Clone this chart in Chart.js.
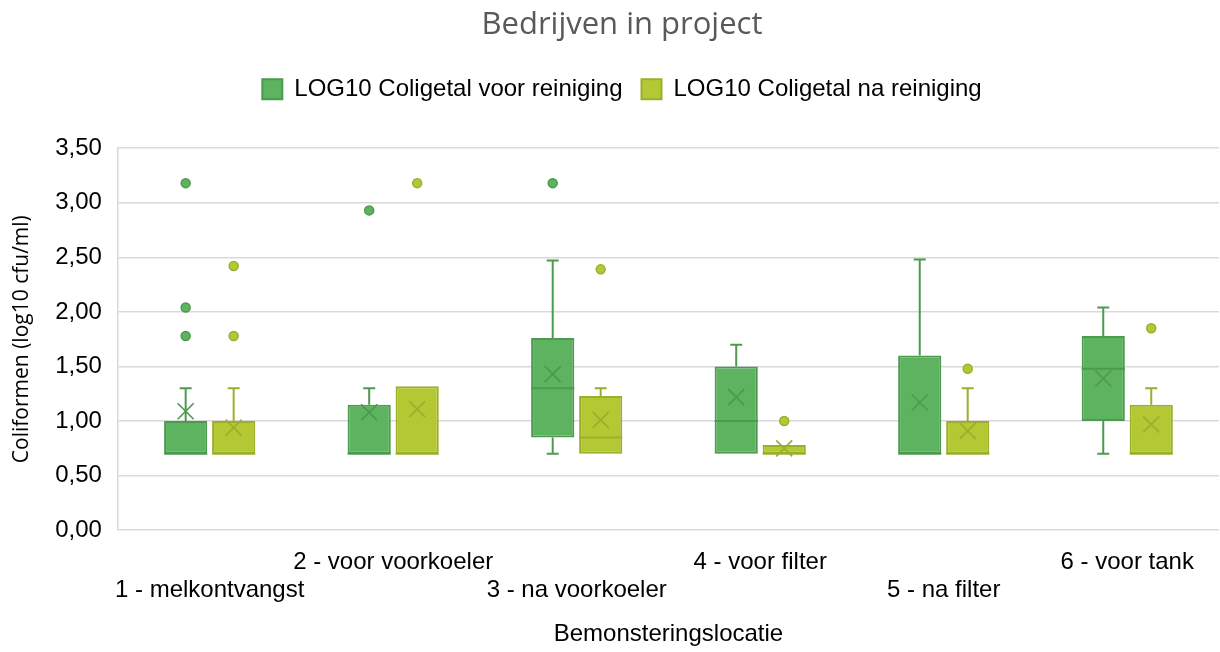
<!DOCTYPE html>
<html>
<head>
<meta charset="utf-8">
<script src="https://cdn.jsdelivr.net/npm/chart.js@4/dist/chart.umd.min.js"></script>
<style>
html,body{margin:0;padding:0;background:#fff;}
#c{display:block;}
</style>
</head>
<body>
<canvas id="c" width="1220" height="652"></canvas>
<script>
const categories = ['1 - melkontvangst','2 - voor voorkoeler','3 - na voorkoeler','4 - voor filter','5 - na filter','6 - voor tank'];
const seriesNames = ['LOG10 Coligetal voor reiniging','LOG10 Coligetal na reiniging'];
const yTicks = [0,0.5,1,1.5,2,2.5,3,3.5];

// LOG10 Coligetal voor reiniging
const voorMin    = [0.70,0.70,0.70,0.70,0.70,0.70];
const voorQ1     = [0.70,0.70,0.85,0.70,0.70,1.00];
const voorMedian = [0.70,0.70,1.30,1.00,0.70,1.48];
const voorQ3     = [1.00,1.15,1.76,1.50,1.60,1.78];
const voorMax    = [1.30,1.30,2.47,1.70,2.48,2.04];
const voorMean   = [1.09,1.08,1.43,1.22,1.17,1.39];
const voorOutliers = [[3.18,2.04,1.78],[2.93],[3.18],[],[],[]];

// LOG10 Coligetal na reiniging
const naMin    = [0.70,0.70,0.70,0.70,0.70,0.70];
const naQ1     = [0.70,0.70,0.70,0.70,0.70,0.70];
const naMedian = [0.70,0.70,0.85,0.70,0.70,0.70];
const naQ3     = [1.00,1.32,1.23,0.78,1.00,1.15];
const naMax    = [1.30,1.32,1.30,0.78,1.30,1.30];
const naMean   = [0.94,1.11,1.01,0.75,0.91,0.97];
const naOutliers = [[2.42,1.78],[3.18],[2.39],[1.00],[1.48],[1.85]];

const fills = ['#5db35f','#b4c834'];
const borders = ['#4c9a4f','#9baf2c'];

const stats = [
  {min:voorMin,q1:voorQ1,med:voorMedian,q3:voorQ3,max:voorMax,mean:voorMean,out:voorOutliers},
  {min:naMin,q1:naQ1,med:naMedian,q3:naQ3,max:naMax,mean:naMean,out:naOutliers}
];

const legendSpace = {
  id:'legendSpace',
  beforeInit(chart){
    const orig = chart.legend.fit;
    chart.legend.fit = function(){
      orig.bind(chart.legend)();
      this.height += 37;
    };
  }
};

const boxPlugin = {
  id:'boxExtras',
  afterDatasetsDraw(chart){
    const ctx = chart.ctx;
    const y = chart.scales.y;
    stats.forEach((s,d)=>{
      const meta = chart.getDatasetMeta(d);
      if (meta.hidden) return;
      meta.data.forEach((bar,j)=>{
        const x = bar.x, w = bar.width;
        ctx.save();
        ctx.strokeStyle = borders[d];
        ctx.lineWidth = 2;
        const cap = 6;
        if (s.max[j] > s.q3[j]) {
          ctx.beginPath();
          ctx.moveTo(x, y.getPixelForValue(s.q3[j]));
          ctx.lineTo(x, y.getPixelForValue(s.max[j]));
          ctx.moveTo(x-cap, y.getPixelForValue(s.max[j]));
          ctx.lineTo(x+cap, y.getPixelForValue(s.max[j]));
          ctx.stroke();
        }
        if (s.min[j] < s.q1[j]) {
          ctx.beginPath();
          ctx.moveTo(x, y.getPixelForValue(s.q1[j]));
          ctx.lineTo(x, y.getPixelForValue(s.min[j]));
          ctx.moveTo(x-cap, y.getPixelForValue(s.min[j]));
          ctx.lineTo(x+cap, y.getPixelForValue(s.min[j]));
          ctx.stroke();
        }
        const my = y.getPixelForValue(s.med[j]);
        ctx.beginPath();
        ctx.moveTo(x-w/2, my);
        ctx.lineTo(x+w/2, my);
        ctx.stroke();
        const mm = y.getPixelForValue(s.mean[j]);
        const h = 8;
        ctx.lineWidth = 1.7;
        ctx.beginPath();
        ctx.moveTo(x-h, mm-h); ctx.lineTo(x+h, mm+h);
        ctx.moveTo(x-h, mm+h); ctx.lineTo(x+h, mm-h);
        ctx.stroke();
        ctx.lineWidth = 1.5;
        ctx.fillStyle = fills[d];
        s.out[j].forEach(v=>{
          const oy = y.getPixelForValue(v);
          ctx.beginPath();
          ctx.arc(x, oy, 4.5, 0, Math.PI*2);
          ctx.fill();
          ctx.stroke();
        });
        ctx.restore();
      });
    });
  }
};

new Chart(document.getElementById('c'), {
  type:'bar',
  data:{
    labels: categories,
    datasets:[
      {label:seriesNames[0], data: voorQ1.map((v,i)=>[v, voorQ3[i]]), backgroundColor:fills[0], borderColor:borders[0], borderWidth:2, borderSkipped:false},
      {label:seriesNames[1], data: naQ1.map((v,i)=>[v, naQ3[i]]), backgroundColor:fills[1], borderColor:borders[1], borderWidth:2, borderSkipped:false}
    ]
  },
  options:{
    responsive:false,
    animation:false,
    categoryPercentage:0.523,
    barPercentage:0.9,
    layout:{padding:{left:25,right:1,top:0,bottom:3}},
    plugins:{
      title:{display:true,text:'Bedrijven in project',color:'#595959',font:{family:'Open Sans',size:31,weight:'normal',lineHeight:1.2},padding:{top:7,bottom:14}},
      legend:{position:'top',labels:{color:'#000',font:{family:'Liberation Sans',size:24},boxWidth:20,boxHeight:20,padding:19}},
      tooltip:{enabled:false}
    },
    scales:{
      x:{
        grid:{display:false,drawTicks:false},
        border:{display:false},
        ticks:{
          autoSkip:false,maxRotation:0,minRotation:0,color:'#000',
          font:{family:'Liberation Sans',size:24,lineHeight:1.1667},
          padding:18,
          callback:(v,i)=> i%2===0 ? ['', categories[i]] : [categories[i], '']
        },
        title:{display:true,text:'Bemonsteringslocatie',color:'#000',font:{family:'Liberation Sans',size:24,lineHeight:1.2},padding:{top:-2,bottom:0}}
      },
      y:{
        min:0,max:3.5,
        afterBuildTicks:(sc)=>{ sc.ticks = yTicks.map(v=>({value:v})); },
        grid:{color:'#d9d9d9',lineWidth:1.5,drawTicks:false},
        border:{display:true,color:'#d9d9d9',width:1.5},
        ticks:{color:'#000',font:{family:'Liberation Sans',size:24},padding:16,callback:(v)=>Number(v).toFixed(2).replace('.',',')},
        title:{display:true,text:'Coliformen (log10 cfu/ml)',color:'#000',font:{family:'Open Sans',size:21,lineHeight:1.2},padding:{top:-16,bottom:5}}
      }
    }
  },
  plugins:[legendSpace, boxPlugin]
});
</script>
</body>
</html>
